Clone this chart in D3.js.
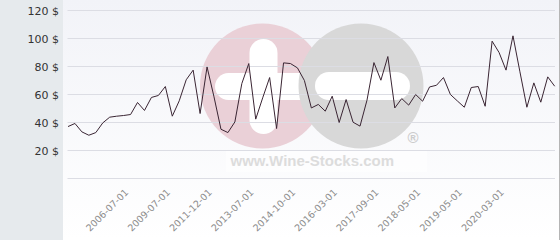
<!DOCTYPE html>
<html><head><meta charset="utf-8">
<script src="https://cdn.jsdelivr.net/npm/d3@7"></script>
<style>html,body{margin:0;padding:0;background:#fff;}svg{display:block;}</style>
</head><body>
<script>
const prices = [37.1,39.3,33.3,30.9,32.8,39.7,43.8,44.5,45.0,45.7,
  54.3,48.6,57.9,59.3,65.7,44.5,55.5,70.5,77.4,46.4,
  79.7,58.3,35.2,32.8,40.4,67.8,82.1,42.4,57.6,72.1,
  35.7,82.6,82.1,79.0,70.0,50.4,52.9,48.1,58.8,40.0,
  56.4,40.2,37.4,55.9,82.8,70.2,87.1,50.4,57.1,52.4,
  60.0,55.2,65.4,66.6,72.1,60.0,55.4,50.9,65.0,65.7,
  51.6,98.1,90.0,77.4,101.9,76.2,50.9,68.3,54.5,72.6,65.9];
const tickIndex = [9,15,21,27,33,39,45,51,57,63];
const tickLabels = ["2006-07-01","2009-07-01","2011-12-01","2013-07-01","2014-10-01",
  "2016-03-01","2017-09-01","2018-05-01","2019-05-01","2020-03-01"];
const yTicks = [20,40,60,80,100,120];
const gridValues = [0,20,40,60,80,100,120];
const watermarkText = "www.Wine-Stocks.com";

const W = 560, H = 240;
const svg = d3.select("body").append("svg").attr("width", W).attr("height", H);
const defs = svg.append("defs");
const grad = defs.append("linearGradient").attr("id","bg").attr("x1",0).attr("y1",0).attr("x2",0).attr("y2",1);
grad.append("stop").attr("offset","0%").attr("stop-color","#f2f3f8");
grad.append("stop").attr("offset","100%").attr("stop-color","#ffffff");

svg.append("rect").attr("x",0).attr("y",0).attr("width",63).attr("height",H).attr("fill","#e6eaed");
svg.append("rect").attr("x",63).attr("y",0).attr("width",496).attr("height",H).attr("fill","url(#bg)");
svg.append("line").attr("x1",559.5).attr("x2",559.5).attr("y1",0).attr("y2",H).attr("stroke","#b5b5b5").attr("stroke-width",1);

const idx = d3.range(prices.length);
const x = d3.scalePoint().domain(idx).range([68, 554.7]);
const y = d3.scaleLinear().domain([0,120]).range([178.5, 10.5]);

// watermark
const wm = svg.append("g");
wm.append("circle").attr("cx",262.5).attr("cy",86).attr("r",62.5).attr("fill","#ead0d7");
wm.append("rect").attr("x",249.5).attr("y",39).attr("width",28).attr("height",95).attr("rx",14).attr("fill","#ffffff");
wm.append("rect").attr("x",215).attr("y",73).attr("width",100).attr("height",27).attr("rx",13.5).attr("fill","#ffffff");
wm.append("circle").attr("cx",361).attr("cy",86).attr("r",62.5).attr("fill","#d8d8d8");
wm.append("rect").attr("x",315).attr("y",72).attr("width",95).attr("height",28).attr("rx",14).attr("fill","#ffffff");
wm.append("text").attr("x",413).attr("y",143).attr("text-anchor","middle")
  .attr("font-family","Liberation Sans, Arial, sans-serif").attr("font-size",15).attr("font-weight","bold")
  .attr("fill","#cccccc").text("®");
wm.append("rect").attr("x",226).attr("y",151).attr("width",201).attr("height",21).attr("fill","#ffffff").attr("opacity",0.6);
wm.append("text").attr("x",230.5).attr("y",166).attr("font-family","Liberation Sans, Arial, sans-serif")
  .attr("font-size",15).attr("font-weight","bold").attr("fill","#dcdcdc").text(watermarkText);

// grid
svg.append("g").selectAll("line").data(gridValues).join("line")
  .attr("x1",67.5).attr("x2",555).attr("y1",d=>y(d)).attr("y2",d=>y(d))
  .attr("stroke","#dcdde4").attr("stroke-width",1);

// y axis labels
const yAxis = d3.axisLeft(y).tickValues(yTicks).tickSize(0).tickPadding(0).tickFormat(d => d + " $");
const gy = svg.append("g").attr("transform","translate(59,0)").call(yAxis);
gy.select(".domain").remove();
gy.selectAll("text").attr("font-family","DejaVu Sans, sans-serif").attr("font-size",11).attr("fill","#333");

// x axis labels
const xAxis = d3.axisBottom(x).tickValues(tickIndex).tickSize(0).tickPadding(0)
  .tickFormat(d => tickLabels[tickIndex.indexOf(d)]);
const gx = svg.append("g").attr("transform","translate(0,178)").call(xAxis);
gx.select(".domain").remove();
gx.selectAll("text").attr("y",0).attr("dy",0).attr("text-anchor","end")
  .attr("transform","translate(-2,15) rotate(-45)")
  .attr("font-family","DejaVu Sans, sans-serif").attr("font-size",9.5).attr("fill","#8c8c8c");

// line
const line = d3.line().x((d,i)=>x(i)).y(d=>y(d));
svg.append("path").datum(prices).attr("d",line).attr("fill","none")
  .attr("stroke","#3a2533").attr("stroke-width",1).attr("stroke-linejoin","miter");
</script>
</body></html>
